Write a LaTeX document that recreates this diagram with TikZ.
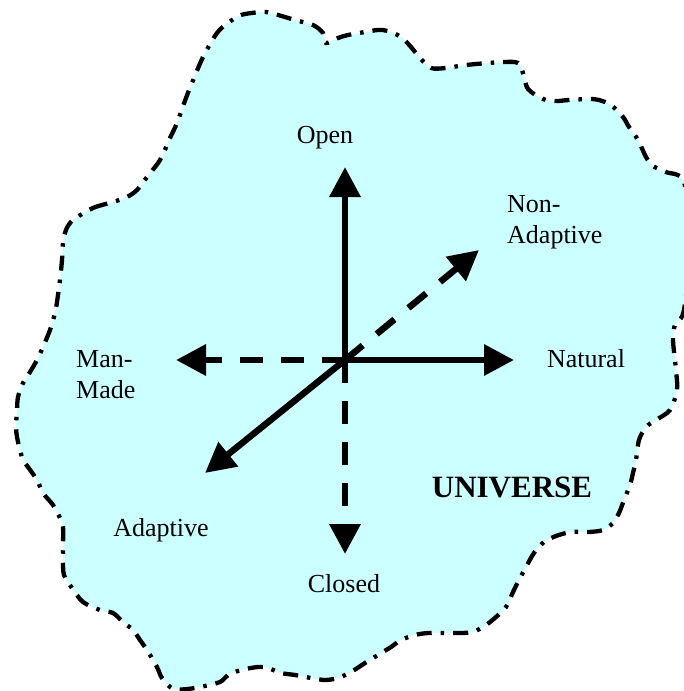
\documentclass[tikz,border=0pt]{standalone}
\usepackage{fontspec}
\setmainfont{Liberation Serif}
\usetikzlibrary{arrows.meta}
\definecolor{uvfill}{RGB}{204,255,255}
\tikzset{
  axisline/.style={line width=6.5pt,-{Triangle[length=30pt,width=30pt]}},
  axisdash/.style={axisline,dash pattern=on 23pt off 18pt},
  lbl/.style={font=\fontsize{26}{31}\selectfont,inner sep=0pt},
  border/.style={draw=black,fill=uvfill,line width=4.3pt,dash pattern=on 15pt off 9pt on 3.5pt off 9pt}
}
\begin{document}
\begin{tikzpicture}[x=1pt,y=-1pt]
\useasboundingbox (0,0) rectangle (684,691);
\fill[white] (0,0) rectangle (684,691);
\draw[border] plot[smooth cycle,tension=0.5] coordinates {
(73,220) (93,208) (113,202) (127,197) (137,190) (147,177) (160,160) (170,138) (177,123) (186,98) (192,83) (203,57) (217,33) (228,23) (241,15) (261,12) (271,13) (295,20) (313,25) (323,33) (326,43) (338,38) (348,35) (365,32) (378,30) (388,31) (401,37) (411,47) (420,58) (431,68) (446,68) (459,66) (476,64) (504,62) (518,63) (523,73) (528,89) (543,99) (556,101) (569,100) (589,99) (599,100) (611,105) (623,117) (629,127) (638,140) (646,157) (653,166) (666,172) (684,182) (690,243) (684,310) (675,325) (673,340) (676,370) (677,390) (670,410) (656,420) (646,427) (639,440) (636,460) (633,473) (630,485) (624,500) (619,513) (613,523) (603,530) (589,532) (571,532) (556,536) (544,542) (534,553) (526,567) (519,580) (513,592) (506,607) (496,617) (486,625) (473,632) (459,633) (445,633) (428,633) (415,635) (401,640) (391,647) (378,655) (365,663) (351,672) (338,678) (325,680) (311,678) (295,675) (281,673) (268,668) (258,667) (241,670) (228,675) (220,682) (200,687) (187,689) (173,689) (162,678) (157,667) (147,650) (140,640) (133,630) (123,622) (113,613) (100,610) (83,602) (72,588) (64,575) (63,560) (63,547) (63,527) (60,518) (53,505) (43,493) (37,480) (28,467) (23,460) (20,450) (17,437) (16,427) (17,410) (18,397) (23,383) (30,372) (37,360) (43,347) (50,330) (55,313) (57,302) (60,280) (62,260) (63,243) (66,230)};
% axes
\coordinate (o) at (345,360);
\coordinate (tipopen) at (345,167);
\coordinate (tipclosed) at (345,554);
\coordinate (tipnatural) at (514,360);
\coordinate (tipmanmade) at (176,360);
\coordinate (tipnonadapt) at (479,250);
\coordinate (tipadapt) at (205,473);
\draw[axisline] (o) -- (tipopen);
\draw[axisline] (o) -- (tipnatural);
\draw[axisline] (o) -- (tipadapt);
\draw[axisdash] (o) -- (tipclosed);
\draw[axisdash] (o) -- (tipmanmade);
\draw[axisdash] (o) -- (tipnonadapt);
% labels
\node[lbl,anchor=base] (open) at (325,143) {Open};
\node[lbl,anchor=base] (closed) at (344,592) {Closed};
\node[lbl,anchor=base] (natural) at (586,367) {Natural};
\node[lbl,anchor=base] (adaptive) at (161,536) {Adaptive};
\node[lbl,anchor=north west,align=left] (manmade) at (76,350) {Man-\\Made};
\node[lbl,anchor=north west,align=left] (nonadapt) at (507,195) {Non-\\Adaptive};
\node[inner sep=0pt,anchor=base,font=\fontsize{31}{36}\selectfont\bfseries] (universe) at (512,497) {UNIVERSE};
\end{tikzpicture}
\end{document}
